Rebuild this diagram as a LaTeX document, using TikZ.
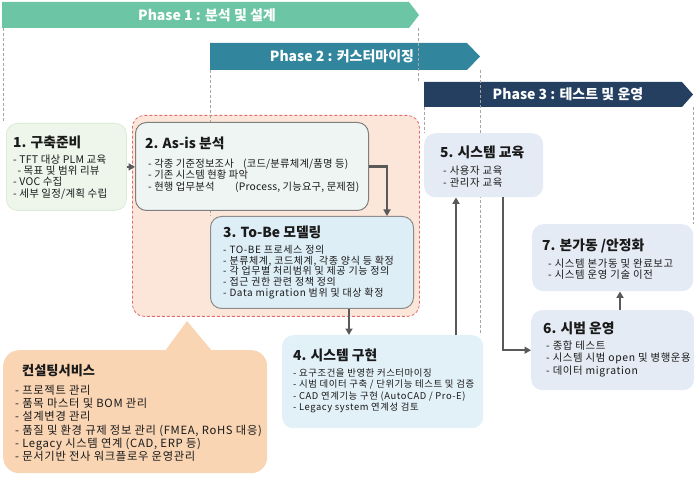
\documentclass[tikz,border=0pt]{standalone}
\usepackage{fontspec}
\setmainfont{Noto Sans CJK KR}
\newfontfamily\itemfont{Noto Sans CJK KR}[LetterSpace=6]
\newfontfamily\itemfontb{Noto Sans CJK KR}[LetterSpace=2]
\usetikzlibrary{arrows.meta,calc}
\definecolor{ph1}{HTML}{6CC5A5}
\definecolor{ph2}{HTML}{31869D}
\definecolor{ph3}{HTML}{243F60}
\definecolor{gline}{HTML}{A6A6A6}
\definecolor{arrc}{HTML}{595959}
\definecolor{redfill}{HTML}{FCE6D9}
\definecolor{redline}{HTML}{E46C6C}
\definecolor{csfill}{HTML}{F9D5B4}
\definecolor{bonefill}{HTML}{EEF6EC}
\definecolor{bonedraw}{HTML}{DCEBD6}
\definecolor{btwofill}{HTML}{EFF5F2}
\definecolor{bthreefill}{HTML}{DEEEF6}
\definecolor{bfourfill}{HTML}{E2F0F8}
\definecolor{bfivefill}{HTML}{E5EBF4}
\definecolor{bdraw}{HTML}{7F7F7F}
\definecolor{txt}{HTML}{1A1A1A}
\newcommand{\fsz}[2]{\fontsize{#1}{#2}\selectfont}
\begin{document}
\begin{tikzpicture}[x=1pt,y=-1pt,
  phasetext/.style={text=white,font=\fsz{14}{15}\bfseries,inner sep=0pt},
  vline/.style={gline,dashed,dash pattern=on 3pt off 2pt,line width=0.7pt},
  boxbase/.style={rounded corners=11pt,anchor=north west,inner sep=0pt},
  titletext/.style={text=txt,font=\fsz{13.8}{16}\bfseries,anchor=west,inner sep=0pt},
  itemtext/.style={text=txt,anchor=north west,align=left,inner sep=0pt},
  arr/.style={arrc,line width=2.3pt,-{Triangle[length=6.5pt,width=7pt]}}
]
\useasboundingbox (0,0) rectangle (696,478);

% phase banners
\path[fill=ph1] (2,2) -- (409,2) -- (419,15) -- (409,28) -- (2,28) -- cycle;
\node[phasetext] (p1) at (207,15) {Phase 1 : 분석 및 설계};
\path[fill=ph2] (210,43) -- (467,43) -- (480,56.5) -- (467,70) -- (210,70) -- cycle;
\node[phasetext] (p2) at (342,56.5) {Phase 2 : 커스터마이징};
\path[fill=ph3] (424,82) -- (682,82) -- (693,94.5) -- (682,107) -- (424,107) -- cycle;
\node[phasetext] (p3) at (568,94.5) {Phase 3 : 테스트 및 운영};

% dashed phase lines
\draw[vline] (3,28) -- (3,123);
\draw[vline] (418,28) -- (418,82);
\draw[vline] (424,107) -- (424,133);
\draw[vline] (480,70) -- (480,335);
\draw[vline] (693,107) -- (693,224);

% red group box
\node[boxbase,rounded corners=12pt,fill=redfill,draw=redline,dashed,dash pattern=on 3pt off 2pt,line width=0.8pt,minimum width=287pt,minimum height=201pt] (rb) at (132,115) {};
\draw[vline] (210,70) -- (210,216);

% consulting callout
\node[boxbase,rounded corners=16pt,fill=csfill,minimum width=264pt,minimum height=123pt] (cs) at (3,350) {};
\path[fill=csfill] (165,351) -- (187,321) -- (212,351) -- cycle;
\node[titletext,font=\fsz{13.2}{15}\bfseries] (cst) at (22,371) {컨설팅서비스};
\node[itemtext,font=\itemfont\fsz{11.3}{13.2}] (csi) at (15,385) {- 프로젝트 관리\\- 품목 마스터 및 BOM 관리\\- 설계변경 관리\\- 품질 및 환경 규제 정보 관리 (FMEA, RoHS 대응)\\- Legacy 시스템 연계 (CAD, ERP 등)\\- 문서기반 전사 워크플로우 운영관리};

% box 1
\node[boxbase,fill=bonefill,draw=bonedraw,line width=0.8pt,minimum width=120pt,minimum height=87pt] (b1) at (6,123) {};
\node[titletext] (t1) at (13,142) {1. 구축준비};
\node[itemtext,font=\itemfontb\fsz{10.5}{11.3}] (i1) at (13,154.4) {- TFT 대상 PLM 교육\\\ \,- 목표 및 범위 리뷰\\- VOC 수집\\- 세부 일정/계획 수립};

% box 2
\node[boxbase,fill=btwofill,draw=bdraw,line width=1pt,minimum width=233pt,minimum height=88pt] (b2) at (135,122) {};
\node[titletext] (t2) at (145,143) {2. As-is 분석};
\node[itemtext,font=\itemfontb\fsz{10.3}{11.5}] (i2) at (148,158.3) {\makebox[95pt][l]{- 각종 기준정보조사}(코드/분류체계/품명 등)\\- 기존 시스템 현황 파악\\\makebox[87pt][l]{- 현행 업무분석}(Process, 기능요구, 문제점)};

% box 3
\node[boxbase,fill=bthreefill,draw=bdraw!90,line width=1pt,minimum width=203pt,minimum height=92pt] (b3) at (210,216) {};
\node[titletext] (t3) at (223,232) {3. To-Be 모델링};
\node[itemtext,font=\itemfont\fsz{10}{10.6}] (i3) at (223,245.3) {- TO-BE 프로세스 정의\\- 분류체계, 코드체계, 각종 양식 등 확정\\- 각 업무별 처리범위 및 제공 기능 정의\\- 접근 권한 관련 정책 정의\\- Data migration 범위 및 대상 확정};

% box 4
\node[boxbase,fill=bfourfill,minimum width=201pt,minimum height=93pt] (b4) at (282,335) {};
\node[titletext] (t4) at (293,355) {4. 시스템 구현};
\node[itemtext,font=\itemfont\fsz{9.4}{11.3}] (i4) at (293,368.6) {- 요구조건을 반영한 커스터마이징\\- 시범 데이터 구축 / 단위기능 테스트 및 검증\\- CAD 연계기능 구현 (AutoCAD / Pro-E)\\- Legacy system 연계성 검토};

% box 5
\node[boxbase,fill=bfivefill,minimum width=119pt,minimum height=64pt] (b5) at (424,133) {};
\node[titletext] (t5) at (440,152) {5. 시스템 교육};
\node[itemtext,font=\itemfont\fsz{10.4}{11.2}] (i5) at (443,166.2) {- 사용자 교육\\- 관리자 교육};

% box 7
\node[boxbase,fill=bfivefill,minimum width=161pt,minimum height=67pt] (b7) at (532,224) {};
\node[titletext] (t7) at (542,246) {7. 본가동 /안정화};
\node[itemtext,font=\itemfont\fsz{10.4}{11.2}] (i7) at (548,258.2) {- 시스템 본가동 및 완료보고\\- 시스템 운영 기술 이전};

% box 6
\node[boxbase,fill=bfivefill,minimum width=163pt,minimum height=80pt] (b6) at (531,310) {};
\node[titletext] (t6) at (543,328) {6. 시범 운영};
\node[itemtext,font=\itemfont\fsz{10.4}{12.5}] (i6) at (546,340.2) {- 종합 테스트\\- 시스템 시범 open 및 병행운용\\- 데이터 migration};

% connectors
\coordinate (k23) at (387,0);
\coordinate (k34) at (349,0);
\coordinate (k45) at (456,0);
\coordinate (k56) at (503,0);
\coordinate (k67) at (620,0);
\draw[arr] (b1.east) -- (b2.west |- b1.east);
\draw[arr] (b2.east) -| (k23 |- b3.north);
\draw[arr] (k34 |- b3.south) -- (k34 |- b4.north);
\draw[arr] (k45 |- b4.north) -- (k45 |- b5.south);
\draw[arr] (k56 |- b5.south) |- (b6.west);
\draw[arr] (k67 |- b6.north) -- (k67 |- b7.south);
\end{tikzpicture}
\end{document}
